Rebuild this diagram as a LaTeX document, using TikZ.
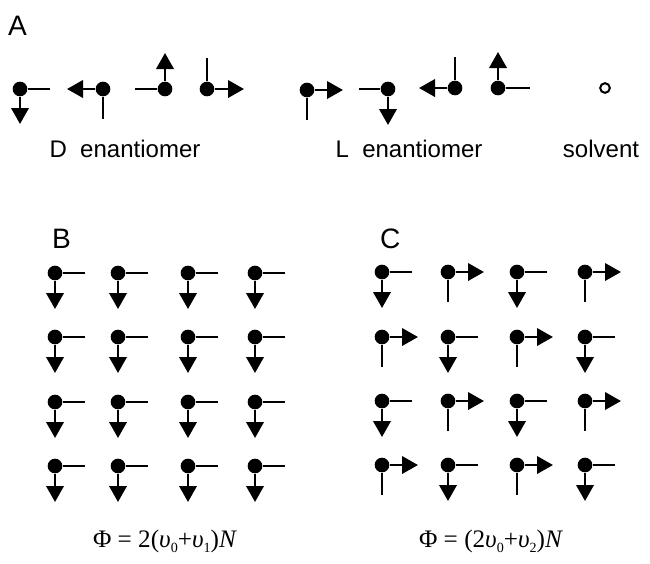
\documentclass[tikz,border=0pt]{standalone}
\usepackage{fontspec}
\setmainfont{Liberation Serif}
\newfontfamily\labelfont{Liberation Sans}
\usetikzlibrary{arrows.meta}
\tikzset{
  atom/.style={circle, fill=black, inner sep=0pt, minimum size=4.4mm},
  solventatom/.style={circle, draw=black, line width=0.6mm, inner sep=0pt, minimum size=2.9mm},
  bond/.style={line width=0.8mm, draw=black},
  arrowbond/.style={bond, -{Triangle[length=4.8mm,width=5.2mm]}},
  hbond0/.style={bond},
  hbond1/.style={arrowbond},
  vbond0/.style={arrowbond},
  vbond1/.style={bond},
  panellabel/.style={font=\labelfont\fontsize{24}{28}\selectfont, anchor=base west, inner sep=0pt},
  caption/.style={font=\labelfont\fontsize{20.5}{24}\selectfont, anchor=base, inner sep=0pt},
  formula/.style={font=\fontsize{21.5}{24}\selectfont, anchor=base, inner sep=0pt}
}
\newcommand{\lowsub}[1]{\raisebox{-0.45ex}{\fontsize{12}{12}\selectfont #1}}

\begin{document}
\begin{tikzpicture}[x=0.3mm, y=-0.3mm]
  \useasboundingbox (0,0) rectangle (650,563);

  % Panel A
  \node[panellabel] (panelA) at (8,35) {A};
  \node[atom] (d1) at (20,89) {}; \coordinate (d1h) at (50,89); \coordinate (d1v) at (20,124);
  \draw[bond] (d1) -- (d1h); \draw[arrowbond] (d1) -- (d1v);
  \node[atom] (d2) at (103,89) {}; \coordinate (d2h) at (67,89); \coordinate (d2v) at (103,119);
  \draw[arrowbond] (d2) -- (d2h); \draw[bond] (d2) -- (d2v);
  \node[atom] (d3) at (165,89) {}; \coordinate (d3h) at (135,89); \coordinate (d3v) at (165,53);
  \draw[bond] (d3) -- (d3h); \draw[arrowbond] (d3) -- (d3v);
  \node[atom] (d4) at (207,89) {}; \coordinate (d4h) at (244,89); \coordinate (d4v) at (207,58);
  \draw[arrowbond] (d4) -- (d4h); \draw[bond] (d4) -- (d4v);

  \node[atom] (l1) at (307,90) {}; \coordinate (l1h) at (343,90); \coordinate (l1v) at (307,120);
  \draw[arrowbond] (l1) -- (l1h); \draw[bond] (l1) -- (l1v);
  \node[atom] (l2) at (388,89) {}; \coordinate (l2h) at (359,89); \coordinate (l2v) at (388,125);
  \draw[bond] (l2) -- (l2h); \draw[arrowbond] (l2) -- (l2v);
  \node[atom] (l3) at (455,88) {}; \coordinate (l3h) at (419,88); \coordinate (l3v) at (455,57);
  \draw[arrowbond] (l3) -- (l3h); \draw[bond] (l3) -- (l3v);
  \node[atom] (l4) at (498,88) {}; \coordinate (l4h) at (530,88); \coordinate (l4v) at (498,52);
  \draw[bond] (l4) -- (l4h); \draw[arrowbond] (l4) -- (l4v);

  \node[solventatom] (solvent) at (605,88) {};

  \node[caption] (dlabel) at (125,157) {D\ \ enantiomer};
  \node[caption] (llabel) at (409,157) {L\ \ enantiomer};
  \node[caption] (slabel) at (601,157) {solvent};

  % Panel B: all D
  \node[panellabel] (panelB) at (52,248) {B};
  \foreach \c/\x in {1/55,2/118,3/188,4/255}
    \foreach \r/\y in {1/273,2/337,3/402,4/466} {
      \node[atom] (b\r\c) at (\x,\y) {};
      \coordinate (b\r\c-h) at (\x+30,\y);
      \coordinate (b\r\c-v) at (\x,\y+36);
      \draw[bond] (b\r\c) -- (b\r\c-h);
      \draw[arrowbond] (b\r\c) -- (b\r\c-v);
    }

  % Panel C: D and L alternate
  \node[panellabel] (panelC) at (380,248) {C};
  \foreach \c/\x in {1/382,2/448,3/517,4/585}
    \foreach \r/\y in {1/272,2/337,3/401,4/465} {
      \pgfmathtruncatemacro{\odd}{mod(\r+\c,2)}
      \pgfmathtruncatemacro{\hlen}{30+6*\odd}
      \pgfmathtruncatemacro{\vlen}{36-6*\odd}
      \node[atom] (c\r\c) at (\x,\y) {};
      \coordinate (c\r\c-h) at (\x+\hlen,\y);
      \coordinate (c\r\c-v) at (\x,\y+\vlen);
      \draw[hbond\odd] (c\r\c) -- (c\r\c-h);
      \draw[vbond\odd] (c\r\c) -- (c\r\c-v);
    }

  % formulas
  \node[formula] (phiB) at (165,547) {Φ = 2(\textit{υ}\lowsub{0}+\textit{υ}\lowsub{1})\textit{N}};
  \node[formula] (phiC) at (491,547) {Φ = (2\textit{υ}\lowsub{0}+\textit{υ}\lowsub{2})\textit{N}};
\end{tikzpicture}
\end{document}
